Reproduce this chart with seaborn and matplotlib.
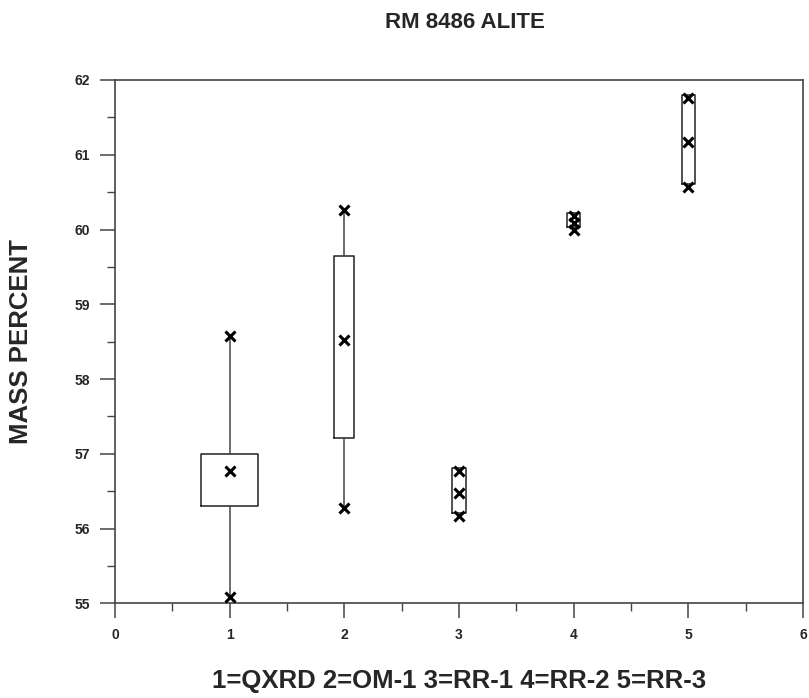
import numpy as np
import pandas as pd
import matplotlib
matplotlib.use("Agg")
import matplotlib.pyplot as plt
from matplotlib.ticker import MultipleLocator
import seaborn as sns

# Methods compared (x position = method code)
methods = [1, 2, 3, 4, 5]
method_names = ["QXRD", "OM-1", "RR-1", "RR-2", "RR-3"]

# Plotted points per method: max, median, min (mass percent)
point_method = [1, 1, 1, 2, 2, 2, 3, 3, 3, 4, 4, 4, 5, 5, 5]
point_value = [58.57, 56.77, 55.085,
               60.26, 58.52, 56.27,
               56.77, 56.47, 56.165,
               60.18, 60.09, 60.00,
               61.765, 61.17, 60.565]

# Box extents (lower / upper quartile) and whisker ends
box_lower = [56.30, 57.205, 56.21, 60.03, 60.605]
box_upper = [57.00, 59.65, 56.805, 60.22, 61.805]
whisker_low = [55.085, 56.27, 56.21, 60.03, 60.605]
whisker_high = [58.57, 60.26, 56.805, 60.22, 61.805]
medians = [56.77, 58.52, 56.47, 60.09, 61.17]

# Box widths in x units
box_widths = [0.5, 0.175, 0.12, 0.115, 0.115]

sns.set_theme(style="white")
plt.rcParams["font.family"] = ["Liberation Sans", "DejaVu Sans"]
plt.rcParams["font.weight"] = "bold"

fig = plt.figure(figsize=(8.09, 6.98), dpi=100)
ax = fig.add_axes([0.1422, 0.1357, 0.8504, 0.7497])

stats = [
    dict(med=m, q1=lo, q3=hi, whislo=wl, whishi=wh, fliers=[], label=str(g))
    for g, m, lo, hi, wl, wh in zip(methods, medians, box_lower, box_upper,
                                     whisker_low, whisker_high)
]
ax.bxp(stats, positions=methods, widths=box_widths, showcaps=False,
       showfliers=False, manage_ticks=False,
       boxprops=dict(color="#222222", linewidth=1.1),
       whiskerprops=dict(color="#444444", linewidth=1.1),
       medianprops=dict(linewidth=0))

points = pd.DataFrame({"method": point_method, "value": point_value})
sns.scatterplot(data=points, x="method", y="value", marker="x", s=52,
                color="black", linewidth=2.2, ax=ax, zorder=5, legend=False)

ax.set_xlim(0, 6)
ax.set_ylim(55, 62)
ax.xaxis.set_major_locator(MultipleLocator(1))
ax.xaxis.set_minor_locator(MultipleLocator(0.5))
ax.yaxis.set_major_locator(MultipleLocator(1))
ax.yaxis.set_minor_locator(MultipleLocator(0.5))
ax.tick_params(which="major", direction="out", length=11, width=1.1,
               color="#444444", labelsize=10, pad=7,
               bottom=True, left=True, top=False, right=False)
ax.tick_params(which="minor", direction="out", length=6, width=1.0,
               color="#444444", bottom=True, left=True, top=False, right=False)
for lab in ax.get_xticklabels() + ax.get_yticklabels():
    lab.set_fontweight("bold")

for side in ["left", "right", "top", "bottom"]:
    ax.spines[side].set_color("#444444")
    ax.spines[side].set_linewidth(1.2)
    ax.spines[side].set_visible(True)

xlabel = " ".join(f"{g}={n}" for g, n in zip(methods, method_names))
ax.set_xlabel(xlabel, fontsize=18.5, fontweight="bold", labelpad=19)
ax.set_ylabel("MASS PERCENT", fontsize=18.5, fontweight="bold", labelpad=30)
fig.text(0.575, 0.968, "RM 8486 ALITE", ha="center", va="center",
         fontsize=16, fontweight="bold")

fig.savefig("out.png", dpi=100, facecolor="white")
